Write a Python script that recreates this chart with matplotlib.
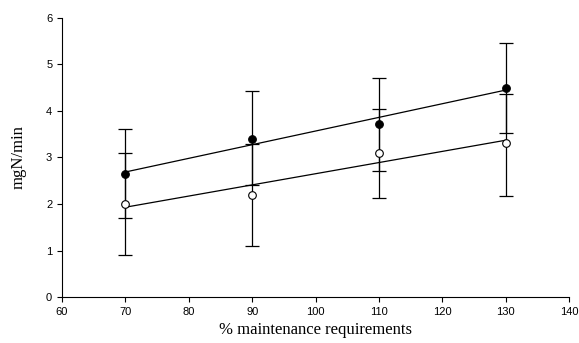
import numpy as np
from matplotlib import pyplot as plt

# % maintenance requirements
x = np.array([70, 90, 110, 130])
# filled symbols
y_filled = np.array([2.65, 3.40, 3.72, 4.50])
err_filled_lo = np.array([0.95, 1.00, 1.02, 0.98])
err_filled_hi = np.array([0.97, 1.02, 0.98, 0.95])
# open symbols
y_open = np.array([2.00, 2.20, 3.10, 3.30])
err_open_lo = np.array([1.10, 1.10, 0.97, 1.13])
err_open_hi = np.array([1.10, 1.08, 0.95, 1.07])

xticks = [60, 70, 80, 90, 100, 110, 120, 130, 140]
yticks = [0, 1, 2, 3, 4, 5, 6]

fig = plt.figure(figsize=(5.79, 3.43), dpi=100)
ax = fig.add_axes([0.107, 0.134, 0.876, 0.814])

ax.errorbar(x, y_filled, yerr=[err_filled_lo, err_filled_hi], fmt='none',
            ecolor='black', elinewidth=0.9, capsize=5, capthick=0.9, zorder=2)
ax.errorbar(x, y_open, yerr=[err_open_lo, err_open_hi], fmt='none',
            ecolor='black', elinewidth=0.9, capsize=5, capthick=0.9, zorder=2)

# regression lines
xx = np.array([x.min(), x.max()])
p1 = np.polyfit(x, y_filled, 1)
p2 = np.polyfit(x, y_open, 1)
ax.plot(xx, np.polyval(p1, xx), color='black', lw=0.9, zorder=3)
ax.plot(xx, np.polyval(p2, xx), color='black', lw=0.9, zorder=3)

ax.plot(x, y_filled, 'o', ms=5.5, mfc='black', mec='black', mew=0.8, zorder=4)
ax.plot(x, y_open, 'o', ms=5.5, mfc='white', mec='black', mew=0.8, zorder=4)

ax.set_xlim(60, 140)
ax.set_ylim(0, 6)
ax.set_xticks(xticks)
ax.set_yticks(yticks)
ax.tick_params(direction='out', length=3.5, width=0.8, labelsize=8)
for lab in ax.get_xticklabels() + ax.get_yticklabels():
    lab.set_family('Liberation Sans')
for s in ['top', 'right']:
    ax.spines[s].set_visible(False)
for s in ['left', 'bottom']:
    ax.spines[s].set_linewidth(0.8)

ax.set_xlabel('% maintenance requirements', family='Liberation Serif', fontsize=12, labelpad=4)
ax.set_ylabel('mgN/min', family='Liberation Serif', fontsize=12, labelpad=14)

plt.savefig('out.png', dpi=100)
